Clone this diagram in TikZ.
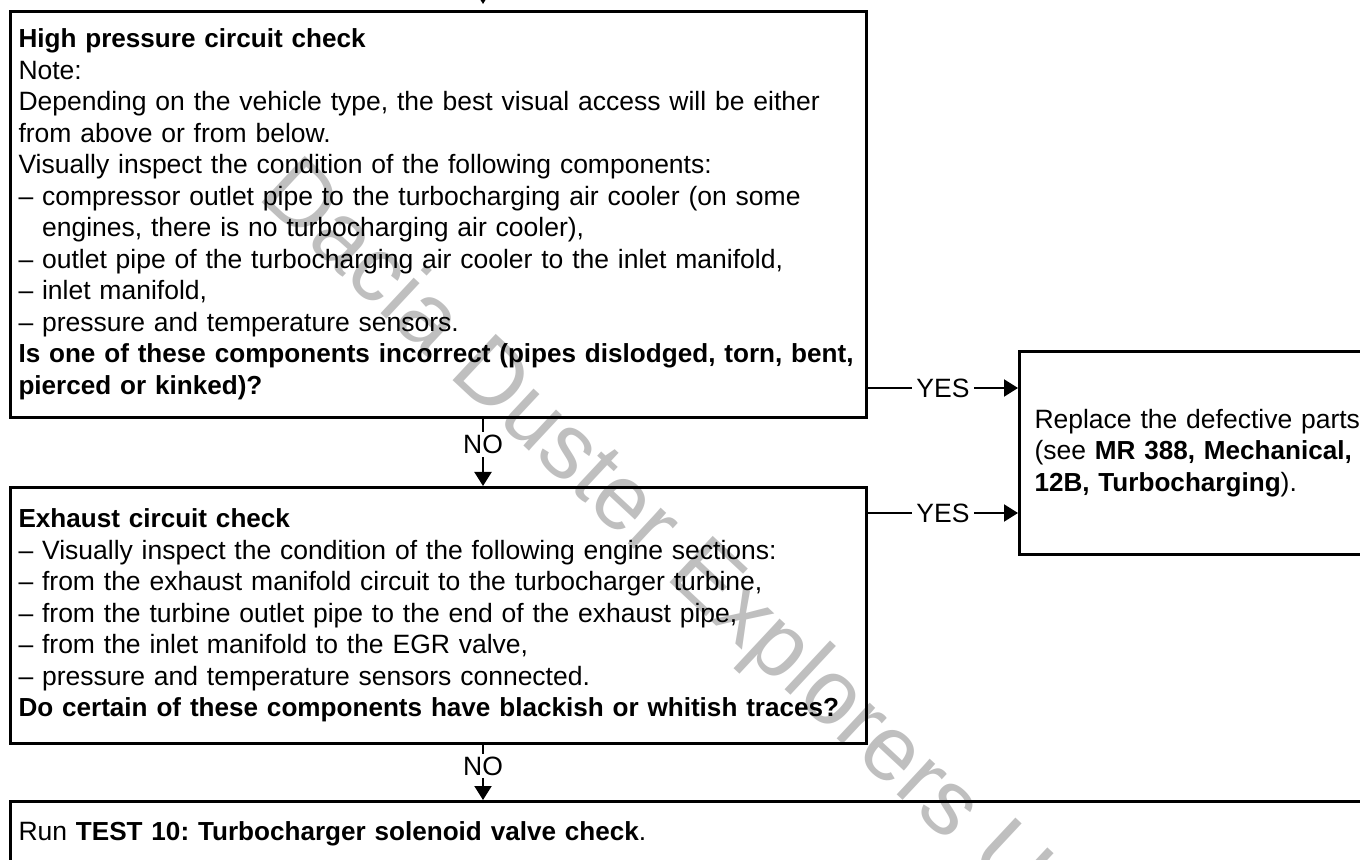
\documentclass[tikz,border=0pt]{standalone}
\usepackage{fontspec}
\setmainfont{Liberation Sans}
\usetikzlibrary{arrows.meta,calc}
\definecolor{ink}{HTML}{000000}
\definecolor{wmgray}{HTML}{BFBFBF}
\frenchspacing
\newcommand\bd[1]{{\fontsize{13.05}{15.75}\selectfont\bfseries #1}}
\tikzset{box/.style={draw=ink,line width=1.5pt,align=left,anchor=north west,inner xsep=4pt,font=\fontsize{13.25}{15.75}\selectfont}, flow/.style={-{Triangle[length=7pt,width=8.5pt]},line width=1pt,draw=ink}, lbl/.style={fill=white,inner xsep=2pt,inner ysep=1.5pt,text depth=0pt,font=\fontsize{13.25}{15.75}\selectfont}, wmark/.style={text=wmgray,font=\fontsize{46}{46}\selectfont}}

\begin{document}
\begin{tikzpicture}[x=0.5pt,y=-0.5pt]
\useasboundingbox (0,0) rectangle (1360,860);
\node[wmark,rotate=-43] (wm) at (675,555) {Dacia Duster Explorers UK};
\node[box,text width=420pt,minimum height=203pt] (hp) at (9,10) {\bd{High pressure circuit check}\\
Note:\\
Depending on the vehicle type, the best visual access will be either\\
from above or from below.\\
Visually inspect the condition of the following components:\\
– compressor outlet pipe to the turbocharging air cooler (on some\\
\phantom{– }engines, there is no turbocharging air cooler),\\
– outlet pipe of the turbocharging air cooler to the inlet manifold,\\
– inlet manifold,\\
– pressure and temperature sensors.\\
\mbox{\bd{Is one of these components incorrect (pipes dislodged, torn, bent,}}\\
\bd{pierced or kinked)?}};
\node[box,text width=420pt,minimum height=128pt] (ex) at (9,486) {\bd{Exhaust circuit check}\\
– Visually inspect the condition of the following engine sections:\\
– from the exhaust manifold circuit to the turbocharger turbine,\\
– from the turbine outlet pipe to the end of the exhaust pipe,\\
– from the inlet manifold to the EGR valve,\\
– pressure and temperature sensors connected.\\
\mbox{\bd{Do certain of these components have blackish or whitish traces?}}};
\node[box,text width=185pt,inner xsep=7.5pt,minimum height=101.5pt] (rp) at (1018,350) {Replace the defective parts\\
(see \bd{MR 388, Mechanical,}\\
\bd{12B, Turbocharging}).};
\node[box,text width=700pt,inner ysep=10pt] (ts) at (9,800) {Run \bd{TEST 10: Turbocharger solenoid valve check}.};
% connectors
\coordinate (in) at (483,-40);
\coordinate (nx) at (483,0);
\coordinate (y1) at ($(hp.south east)+(0,-31)$);
\coordinate (y2) at ($(ex.north east)+(0,27)$);
\draw[flow,shorten >=3pt] (in) -- (hp.north -| in);
\draw[flow] (hp.south -| nx) -- node[lbl,pos=0.38]{NO} (ex.north -| nx);
\draw[flow] (ex.south -| nx) -- node[lbl,pos=0.38]{NO} (ts.north -| nx);
\draw[flow] (y1) -- node[lbl]{YES} (y1 -| rp.west);
\draw[flow] (y2) -- node[lbl]{YES} (y2 -| rp.west);
\end{tikzpicture}
\end{document}
